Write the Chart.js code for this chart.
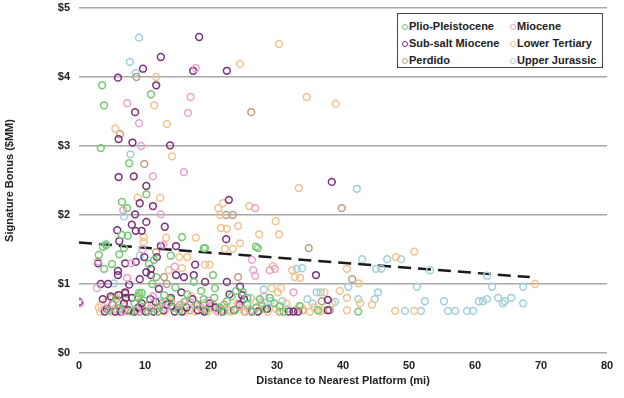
<!DOCTYPE html>
<html>
<head>
<meta charset="utf-8">
<script src="https://cdn.jsdelivr.net/npm/chart.js@4.4.1/dist/chart.umd.min.js"></script>
<style>
  html, body { margin: 0; padding: 0; background: #fff; }
  #wrap { position: relative; width: 624px; height: 398px; }
  #legend {
    position: absolute; left: 397px; top: 13px; width: 204px; height: 53px;
    border: 1px solid #444; background: #fff;
    font: bold 11px "Liberation Sans", Arial, sans-serif; color: #222;
  }
  #legend .item { position: absolute; white-space: nowrap; line-height: 13px; }
  #legend .dot {
    display: inline-block; width: 4px; height: 4px; border-radius: 50%;
    border: 1.3px solid; margin-right: 1px; vertical-align: 0px;
  }
</style>
</head>
<body>
<div id="wrap">
  <canvas id="chart" width="624" height="398"></canvas>
  <div id="legend"></div>
</div>
<script>
// Series names and colours
const seriesNames = ['Plio-Pleistocene', 'Miocene', 'Sub-salt Miocene', 'Lower Tertiary', 'Perdido', 'Upper Jurassic'];
const seriesColors = ['#74c874', '#e8a2d2', '#7a2e7a', '#f3c28c', '#b9a07e', '#9fcfda'];

// [distance (mi), bonus ($MM)]
const plioPleistocene = [
  [3.5,3.88],[10.9,3.75],[3.8,3.59],[3.3,2.97],[7.6,2.75],[10.2,2.3],[6.5,2.19],[7.3,2.1],
  [6.5,1.71],[7.4,1.7],[15.6,1.68],[3.6,1.54],[4.1,1.56],[18.9,1.52],[3.0,1.42],[6.8,1.52],
  [6.1,1.43],[13.9,1.41],[5.0,1.29],[10.6,1.29],[11.4,1.35],[3.8,1.22],[11.7,1.1],[11.1,1.0],
  [17.4,1.03],[9.1,0.87],[9.5,0.87],[26.8,1.54],[27.1,1.52],[19.1,1.52],[20.3,1.13],[42.3,0.6],
  [4.5,0.62],[6.2,0.65],[8.4,0.72],[10.5,0.6],[12.3,0.68],[13.8,0.78],[15.2,0.62],[16.4,0.85],
  [17.8,0.7],[19.2,0.62],[20.5,0.8],[21.3,0.66],[22.4,0.75],[23.6,0.62],[24.8,0.88],[25.5,0.7],
  [26.3,0.6],[27.4,0.78],[28.2,0.64],[29.6,0.72],[31.0,0.6],[33.4,0.68],[36.2,0.62],[18.5,0.9],
  [14.6,0.95],[20.6,0.94],[23.8,0.9],[25.5,0.8],
  [5.6,0.78],[7.9,0.6],[9.8,0.76],[11.9,0.6],[14.2,0.66],[16.0,0.74],[18.9,0.78],[21.9,0.6],
  [23.1,0.82],[26.9,0.66],[28.9,0.8],[30.4,0.68],[12.9,0.84],[8.9,0.82]
];
const miocene = [
  [17.7,4.13],[16.9,3.71],[7.3,3.62],[16.5,3.48],[9.1,3.33],[9.4,3.0],[15.9,2.62],[11.2,2.56],
  [6.7,2.07],[12.4,2.01],[26.7,2.1],[12.8,1.57],[2.9,1.33],[7.9,1.3],[26.2,1.35],[28.9,1.2],
  [29.7,1.22],[26.4,1.2],[26.7,1.12],[7.3,1.09],[2.7,0.94],[0.2,0.72],[9.6,1.5],[14.5,1.25],
  [32.5,0.88],[5.2,0.7],[8.8,0.62],[13.0,0.66],[16.8,0.74],[21.0,0.6],[24.2,0.68],[28.0,0.82],
  [11.2,0.82],[18.6,0.65],[4.0,0.64],[6.6,0.6],[10.8,0.64],[15.3,0.7],[19.6,0.76],[26.0,0.62]
];
const subSaltMiocene = [
  [18.2,4.58],[12.4,4.29],[9.7,4.12],[17.3,4.09],[5.9,3.99],[11.7,3.88],[22.4,4.09],[8.5,3.49],
  [6.0,3.10],[8.1,3.05],[13.8,3.01],[6.0,2.55],[8.3,2.56],[10.2,2.42],[38.3,2.48],[22.7,2.22],
  [9.2,2.17],[11.2,2.13],[8.5,2.01],[10.2,1.9],[8.0,1.86],[13.0,1.83],[5.8,1.78],[8.6,1.77],
  [9.5,1.77],[6.1,1.62],[12.4,1.55],[14.7,1.55],[22.3,1.65],[11.8,1.39],[2.9,1.3],[7.0,1.3],
  [8.6,1.32],[9.9,1.39],[17.6,1.28],[5.9,1.19],[5.9,1.13],[10.9,1.22],[10.9,1.13],[10.2,1.17],
  [9.2,1.07],[14.7,1.13],[15.9,1.1],[17.4,1.13],[35.9,1.13],[3.3,1.0],[4.4,1.0],[7.6,0.99],
  [19.1,1.03],[7.0,0.88],[12.1,0.93],[15.5,0.88],[0,0.74],[24.4,0.96],[24.7,0.84],[22.4,1.03],
  [3.6,0.78],[4.2,0.64],[5.5,0.6],[6.8,0.72],[7.5,0.62],[9.0,0.66],[10.1,0.6],[11.6,0.74],
  [12.8,0.62],[14.0,0.68],[15.6,0.6],[17.2,0.78],[18.0,0.62],[19.8,0.72],[21.6,0.6],[22.8,0.85],
  [23.5,0.62],[25.0,0.78],[27.1,0.6],[28.5,0.64],[31.8,0.6],[32.5,0.6],[33.2,0.6],[37.7,0.62],
  [37.7,0.77],[4.8,0.82],[8.0,0.8],
  [3.9,0.6],[5.1,0.7],[6.3,0.6],[7.1,0.8],[8.4,0.6],[9.5,0.72],[10.8,0.78],[11.3,0.6],
  [13.3,0.7],[14.5,0.6],[16.3,0.66],[17.9,0.7],[19.0,0.6],[20.7,0.66],[24.3,0.7],[26.2,0.6],
  [13.9,0.8],[6.0,0.84]
];
const lowerTertiary = [
  [11.7,4.0],[11.4,3.59],[13.3,3.32],[5.5,3.25],[14.1,2.85],[8.9,2.25],[12.3,2.25],[30.3,4.48],
  [24.4,4.19],[34.5,3.71],[38.9,3.61],[33.3,2.39],[21.1,2.1],[21.8,2.17],[25.8,2.13],[21.4,2.0],
  [29.8,1.91],[21.5,1.81],[22.4,1.8],[24.1,1.84],[27.3,1.72],[30.3,1.72],[24.4,1.59],[22.1,1.51],
  [23.3,1.51],[9.8,1.68],[13.2,1.67],[17.7,1.67],[9.8,1.61],[13.6,1.2],[15.2,1.39],[16.4,1.39],
  [15.6,1.23],[19.1,1.28],[19.8,1.28],[29.4,1.26],[32.3,1.2],[32.7,1.1],[33.5,1.09],[48.0,1.39],
  [50.8,1.47],[40.6,1.22],[42.4,1.01],[69.1,1.0],[42.6,0.72],[40.6,0.8],[40.6,0.62],[39.5,0.9],
  [44.4,0.7],[47.9,0.61],[50.8,0.61],
  [3.0,0.66],[3.4,0.7],[4.8,0.6],[6.0,0.75],[7.2,0.6],[8.0,0.8],[9.6,0.64],[11.0,0.7],
  [12.0,0.6],[13.4,0.75],[14.8,0.64],[16.0,0.6],[17.0,0.82],[18.3,0.68],[19.5,0.6],[20.2,0.72],
  [21.8,0.64],[23.0,0.6],[24.0,0.72],[25.6,0.64],[26.8,0.74],[28.6,0.6],[30.1,0.88],[31.4,0.72],
  [32.8,0.62],[34.0,0.62],[35.0,0.6],[36.5,0.6],[37.2,0.88],[38.4,0.72],[30.6,0.94],[29.2,0.94],
  [3.2,0.6],[4.2,0.74],[5.4,0.64],[6.9,0.68],[8.6,0.62],[10.2,0.68],[11.8,0.64],[13.0,0.6],
  [14.0,0.74],[15.5,0.7],[17.6,0.6],[18.9,0.72],[20.8,0.62],[22.4,0.66],[23.8,0.64],[25.0,0.6],
  [27.4,0.62],[29.8,0.64],[31.0,0.6],[33.6,0.68],[35.6,0.66],[36.9,0.62],[9.2,0.84],[5.6,0.82]
];
const perdido = [
  [8.7,4.0],[26.1,3.49],[6.2,3.17],[9.9,2.74],[39.8,2.1],[22.3,2.0],[23.3,2.0],[34.8,1.52],
  [11.7,1.46],[24.1,1.1],[41.4,1.07],[12.9,1.1],[13.3,1.0],
  [5.0,0.8],[6.5,0.64],[9.2,0.6],[12.6,0.72],[15.0,0.66],[18.8,0.62],[22.0,0.7],[25.2,0.6],
  [27.8,0.68],[30.4,0.6],[33.9,0.62],[36.8,0.75],[38.0,0.62],[7.0,0.86],[16.8,0.62],[20.0,0.68]
];
const upperJurassic = [
  [9.1,4.57],[7.7,4.22],[8.6,4.06],[7.8,2.88],[42.1,2.38],[9.2,1.41],[4.1,1.58],[5.3,1.01],
  [33.0,1.22],[33.8,1.23],[42.9,1.36],[46.7,1.36],[48.8,1.36],[45.0,1.22],[45.8,1.22],[53.2,1.2],
  [61.8,1.12],[51.2,0.96],[62.6,0.96],[67.3,0.96],[40.8,0.96],[45.3,0.88],[44.8,0.78],[52.4,0.75],
  [55.3,0.75],[60.6,0.75],[61.2,0.75],[61.8,0.78],[63.5,0.8],[64.2,0.72],[64.5,0.75],[65.5,0.8],
  [67.3,0.72],[49.4,0.61],[51.8,0.61],[55.9,0.61],[57.0,0.61],[58.8,0.61],[59.7,0.61],[42.3,0.78],
  [6.8,1.98],
  [20.0,0.66],[22.6,0.62],[24.6,0.74],[26.0,0.8],[27.6,0.72],[29.0,0.75],[30.8,0.75],[31.6,0.64],
  [34.6,0.78],[35.4,0.72],[36.0,0.88],[36.6,0.88],[38.8,0.74],[28.0,0.92],[12.2,0.75]
];

// dashed trend line end points
const trendX = [0, 68.3];
const trendY = [1.6, 1.1];

// tick labels
const yTickLabels = ['$0', '$1', '$2', '$3', '$4', '$5'];
const xTicks = [0, 10, 20, 30, 40, 50, 60, 70, 80];

const seriesData = [plioPleistocene, miocene, subSaltMiocene, lowerTertiary, perdido, upperJurassic];

const datasets = seriesData.map((pts, i) => ({
    type: 'scatter',
    label: seriesNames[i],
    data: pts.map(p => ({ x: p[0], y: p[1] })),
    borderColor: seriesColors[i],
    backgroundColor: 'rgba(0,0,0,0)',
    pointRadius: 3.4,
    pointBorderWidth: 1.5,
    pointHoverRadius: 3.4
}));

datasets.push({
    type: 'line',
    label: 'trend',
    data: trendX.map((x, i) => ({ x: x, y: trendY[i] })),
    borderColor: '#1a1a1a',
    borderWidth: 2.5,
    borderDash: [13, 7],
    pointRadius: 0,
    fill: false
});

const tickFont = { family: '"Liberation Sans", Arial, sans-serif', size: 11, weight: 'bold' };

new Chart(document.getElementById('chart'), {
    type: 'scatter',
    data: { datasets: datasets },
    options: {
        responsive: false,
        animation: false,
        layout: { autoPadding: false, padding: { left: 0, right: 17, top: 8, bottom: 0 } },
        plugins: {
            legend: { display: false },
            tooltip: { enabled: false }
        },
        scales: {
            x: {
                type: 'linear',
                min: 0,
                max: 80,
                afterBuildTicks: axis => { axis.ticks = xTicks.map(v => ({ value: v })); },
                afterFit: axis => {
                    axis.height = 45;
                    axis.paddingLeft = 0;
                    axis.paddingRight = 0;
                },
                grid: { display: false, drawTicks: false },
                border: { display: false },
                ticks: { color: '#222', font: tickFont, padding: 6, maxRotation: 0 },
                title: {
                    display: true,
                    text: 'Distance to Nearest Platform (mi)',
                    color: '#222',
                    font: tickFont,
                    padding: { top: 0, bottom: 10 }
                }
            },
            y: {
                min: 0,
                max: 5,
                afterBuildTicks: axis => { axis.ticks = yTickLabels.map((t, i) => ({ value: i })); },
                afterFit: axis => {
                    axis.width = 79;
                    axis.paddingTop = 0;
                    axis.paddingBottom = 0;
                },
                grid: { color: '#a8a8a8', lineWidth: 1.5, drawTicks: false },
                border: { display: false },
                ticks: {
                    color: '#222',
                    font: tickFont,
                    padding: 9,
                    callback: function(value) { return yTickLabels[value]; }
                },
                title: {
                    display: true,
                    text: 'Signature Bonus ($MM)',
                    color: '#222',
                    font: tickFont,
                    padding: { top: 3, bottom: 0 }
                }
            }
        }
    }
});

// legend box, 2 columns x 3 rows
const legend = document.getElementById('legend');
const colX = [4, 112];
const rowY = [6, 23, 40];
seriesNames.forEach((name, k) => {
    const item = document.createElement('div');
    item.className = 'item';
    item.style.left = colX[k % 2] + 'px';
    item.style.top = rowY[Math.floor(k / 2)] + 'px';
    item.innerHTML = '<span class="dot" style="border-color:' + seriesColors[k] + '"></span>' + name;
    legend.appendChild(item);
});
</script>
</body>
</html>
